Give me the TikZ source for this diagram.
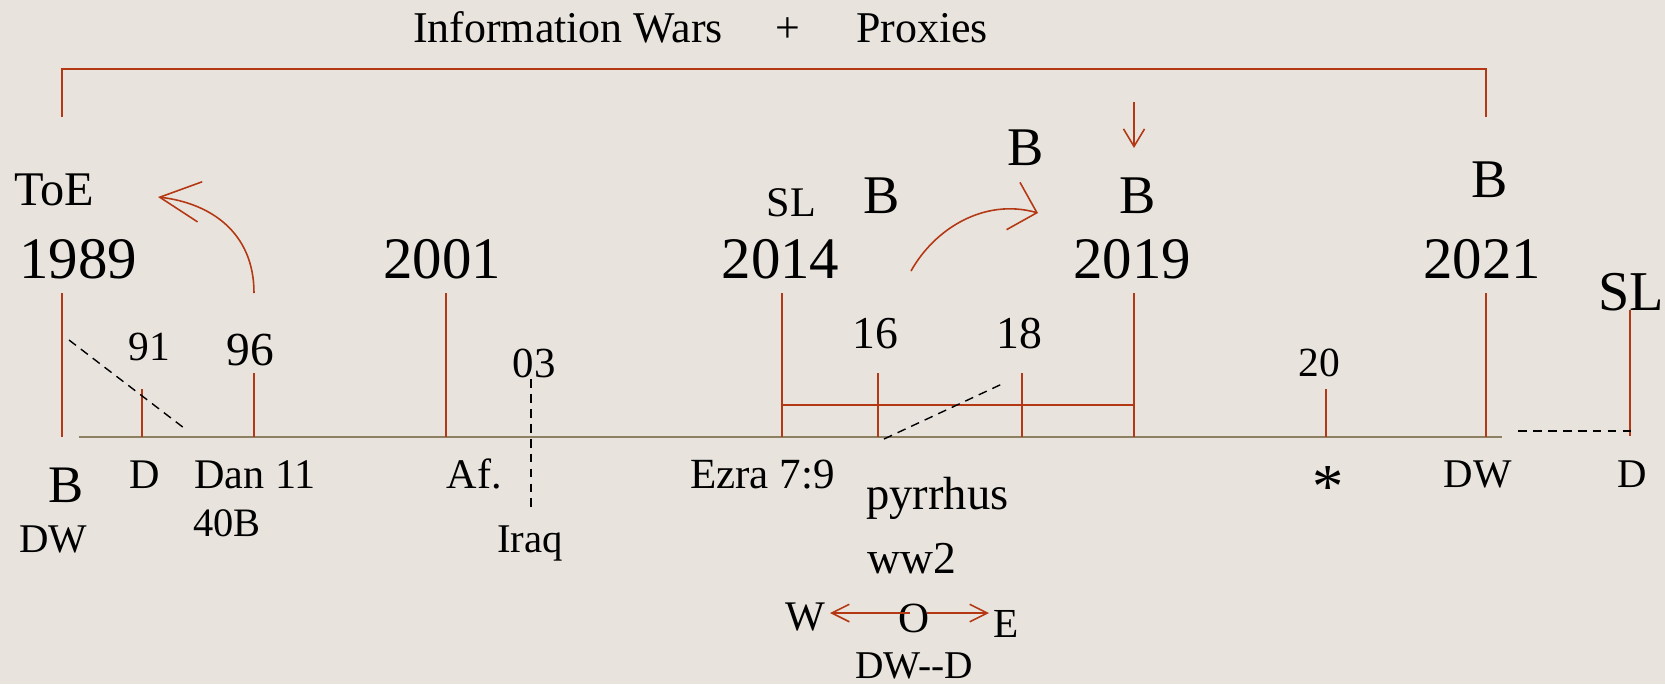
\documentclass[tikz,border=0pt]{standalone}
\usepackage{fontspec}
\setmainfont{Liberation Serif}
\usetikzlibrary{arrows.meta}
\definecolor{bg}{RGB}{232,228,221}
\definecolor{rust}{RGB}{181,56,20}
\definecolor{axisc}{RGB}{142,129,99}
\newcommand\fsz[1]{\fontsize{#1}{#1}\selectfont}
\begin{document}
\begin{tikzpicture}[x=0.02cm,y=-0.02cm,
  lbl/.style={inner sep=0pt, anchor=base, text=black},
  lblw/.style={inner sep=0pt, anchor=base west, text=black},
  lble/.style={inner sep=0pt, anchor=base east, text=black},
  tick/.style={draw=rust, line width=1pt},
  brk/.style={draw=rust, line width=1.2pt},
  dsh/.style={draw=black, line width=0.8pt, dash pattern=on 5pt off 3.5pt},
  axisline/.style={draw=axisc, line width=1.2pt},
  carrow/.style={draw=rust, line width=0.9pt},
]
\fill[bg] (0,0) rectangle (1665,684);
\useasboundingbox (0,0) rectangle (1665,684);

% title
\node[lbl, font=\fsz{25}] (title1) at (568,42) {Information Wars};
\node[lbl, font=\fsz{25}] (plus) at (788,42) {+};
\node[lbl, font=\fsz{25}] (title2) at (922,42) {Proxies};

% top bracket
\coordinate (bl) at (62,117);
\coordinate (tl) at (62,69);
\coordinate (tr) at (1486,69);
\coordinate (br) at (1486,117);
\draw[brk] (bl) -- (tl) -- (tr) -- (br);

% axis
\coordinate (ax0) at (78.5,437);
\coordinate (ax1) at (1502,437);
\draw[axisline] (ax0) -- (ax1);

% upper labels
\node[lbl, font=\fsz{27.5}] (toe) at (54,205) {ToE};
\node[lbl, font=\fsz{33.5}] (y1989) at (78,278) {1989};
\node[lbl, font=\fsz{33.5}] (y2001) at (442,278) {2001};
\node[lbl, font=\fsz{33.5}] (y2014) at (780.5,278) {2014};
\node[lbl, font=\fsz{33.5}] (y2019) at (1132,278) {2019};
\node[lbl, font=\fsz{33.5}] (y2021) at (1482,278) {2021};
\node[lbl, font=\fsz{24}] (slA) at (791.5,216) {SL};
\node[lbl, font=\fsz{31}] (bA) at (882,213) {B};
\node[lbl, font=\fsz{31}] (bB) at (1026,165) {B};
\node[lbl, font=\fsz{31}] (bC) at (1138,213) {B};
\node[lbl, font=\fsz{31}] (bD) at (1490,197) {B};
\node[lbl, font=\fsz{32}] (slB) at (1631.5,310) {SL};

% small year labels
\node[lbl, font=\fsz{23.6}] (n91) at (149,360) {91};
\node[lbl, font=\fsz{27}] (n96) at (250,365) {96};
\node[lbl, font=\fsz{24.4}] (n03) at (534,377) {03};
\node[lbl, font=\fsz{26}] (n16) at (875,348) {16};
\node[lbl, font=\fsz{26}] (n18) at (1019,348) {18};
\node[lbl, font=\fsz{23.6}] (n20) at (1319.5,376) {20};

% ticks
\foreach \nm/\x/\ya/\yb in {a/62/293/437, b/142/389/437, c/253.7/373/437, d/446/293/437,
  e/781.7/293/437, f/877.7/373/437, g/1022/373/437, h/1134/293/437, i/1326/389/437,
  j/1485.7/293/437, k/1630/310/436}{
  \coordinate (tk\nm1) at (\x,\ya);
  \coordinate (tk\nm2) at (\x,\yb);
  \draw[tick] (tk\nm1) -- (tk\nm2);
}
\coordinate (hb1) at (781.7,405);
\coordinate (hb2) at (1134,405);
\draw[tick] (hb1) -- (hb2);

% dashed lines
\coordinate (d1a) at (69,340);   \coordinate (d1b) at (184,428);
\coordinate (d2a) at (531,379);  \coordinate (d2b) at (531,510);
\coordinate (d3a) at (884,439);  \coordinate (d3b) at (1002,384);
\coordinate (d4a) at (1518,431); \coordinate (d4b) at (1633,431);
\draw[dsh] (d1a) -- (d1b);
\draw[dsh] (d2a) -- (d2b);
\draw[dsh] (d3a) -- (d3b);
\draw[dsh] (d4a) -- (d4b);

% curved arrows
\coordinate (a1s) at (254,293); \coordinate (a1e) at (158,197);
\draw[carrow, -{Straight Barb[length=23pt,width=23pt]}] (a1s) .. controls (254,232) and (210,203) .. (a1e);
\coordinate (a2s) at (911,271); \coordinate (a2e) at (1038,213);
\draw[carrow, -{Straight Barb[length=14pt,width=28pt]}] (a2s) .. controls (935,228) and (985,198) .. (a2e);
\coordinate (a3s) at (1134,102); \coordinate (a3e) at (1134,148);
\draw[carrow, -{Straight Barb[length=10pt,width=12pt]}] (a3s) -- (a3e);

% lower labels
\node[lbl, font=\fsz{30}] (bL) at (66,502) {B};
\node[lbl, font=\fsz{23.2}] (dwL) at (53.5,552) {DW};
\node[lbl, font=\fsz{24}] (dL) at (144.5,488) {D};
\node[lblw, font=\fsz{24}] (dan) at (194,488) {Dan 11};
\node[lblw, font=\fsz{23}] (b40) at (193,536) {40B};
\node[lbl, font=\fsz{24}] (af) at (474.5,488) {Af.};
\node[lbl, font=\fsz{23.2}] (iraq) at (530,552) {Iraq};
\node[lble, font=\fsz{24.5}] (ezra) at (835,488) {Ezra 7:9};
\node[lblw, font=\fsz{26.5}] (pyr) at (866,509) {pyrrhus};
\node[lblw, font=\fsz{26}] (ww) at (867,573) {ww2};
\node[lbl, font=\fsz{24}] (wW) at (805.5,630) {W};
\node[lbl, font=\fsz{24.5}] (oO) at (914.5,632) {O};
\node[lbl, font=\fsz{23.5}] (eE) at (1006.5,637) {E};
\node[lbl, font=\fsz{22.4}] (dwd) at (914,678) {DW-{}-D};
\node[lbl, font=\fsz{35.6}] (star) at (1327.7,507) {*};
\node[lbl, font=\fsz{23.2}] (dwR) at (1477.5,487) {DW};
\node[lbl, font=\fsz{23.2}] (dR) at (1632.5,487) {D};

% W <- O -> E arrows
\coordinate (oL) at (910,613); \coordinate (wT) at (830,613);
\coordinate (oR) at (927,613); \coordinate (eT) at (989,613);
\draw[carrow, -{Straight Barb[length=10pt,width=10pt]}] (oL) -- (wT);
\draw[carrow, -{Straight Barb[length=10pt,width=10pt]}] (oR) -- (eT);
\end{tikzpicture}
\end{document}
